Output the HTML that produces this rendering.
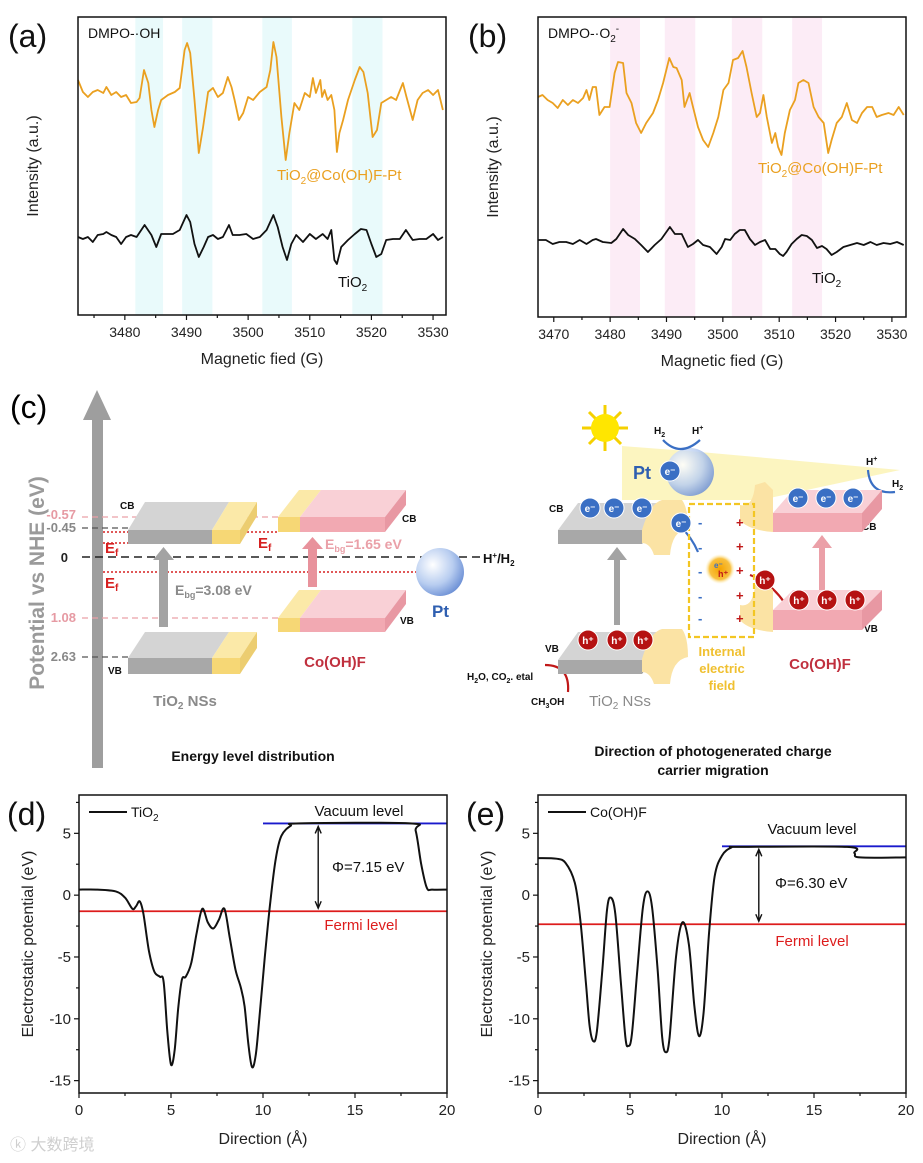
<!DOCTYPE html>
<html><head><meta charset="utf-8"><style>
html,body{margin:0;padding:0;background:#fff;}
svg{display:block;font-family:"Liberation Sans",Arial,sans-serif;}
</style></head><body>
<svg id="fig" width="923" height="1163" viewBox="0 0 923 1163" xmlns="http://www.w3.org/2000/svg">
<rect x="0" y="0" width="923" height="1163" fill="#fff"/>
<g id="pa"></g>
<g id="pb"></g>
<g id="pd"></g>
<g id="pe"></g>

<!-- Panel c -->
<g id="pc" font-weight="bold">
  <text x="10" y="418" font-size="32" font-weight="normal">(c)</text>
  <polygon points="92,768 103,768 103,420 111,420 97,390 83,420 92,420" fill="#9e9e9e"/>
  <text transform="translate(44,583) rotate(-90)" text-anchor="middle" font-size="21" fill="#9a9a9a">Potential vs NHE (eV)</text>
  <g font-size="13" text-anchor="end">
    <text x="76" y="519" fill="#e69aa3">-0.57</text>
    <text x="76" y="532" fill="#888">-0.45</text>
    <text x="68" y="562" fill="#222">0</text>
    <text x="76" y="622" fill="#e69aa3">1.08</text>
    <text x="76" y="661" fill="#888">2.63</text>
  </g>
  <g stroke-width="1.3">
    <line x1="82" y1="517" x2="278" y2="517" stroke="#eaa0a8" stroke-dasharray="6,4"/>
    <line x1="82" y1="528" x2="128" y2="528" stroke="#555" stroke-dasharray="6,4"/>
    <line x1="82" y1="557" x2="480" y2="557" stroke="#222" stroke-dasharray="8,5" stroke-width="1.6"/>
    <line x1="82" y1="618" x2="278" y2="618" stroke="#eaa0a8" stroke-dasharray="6,4"/>
    <line x1="82" y1="657" x2="128" y2="657" stroke="#555" stroke-dasharray="6,4"/>
    <line x1="103" y1="532" x2="278" y2="532" stroke="#d62020" stroke-dasharray="2,2" stroke-width="1.6"/>
    <line x1="103" y1="543" x2="128" y2="543" stroke="#d62020" stroke-dasharray="2,2" stroke-width="1.6"/>
    <line x1="103" y1="572" x2="418" y2="572" stroke="#d62020" stroke-dasharray="2,2" stroke-width="1.6"/>
  </g>
  <g id="slabs-left"></g>
  <g font-size="10" fill="#111">
    <text x="120" y="509">CB</text>
    <text x="108" y="674">VB</text>
    <text x="402" y="522">CB</text>
    <text x="400" y="624">VB</text>
  </g>
  <g fill="#d62020" font-size="15">
    <text x="105" y="553">E<tspan font-size="10" dy="3">f</tspan></text>
    <text x="105" y="588">E<tspan font-size="10" dy="3">f</tspan></text>
    <text x="258" y="548">E<tspan font-size="10" dy="3">f</tspan></text>
  </g>
  <polygon points="159,627 168,627 168,560 174,560 163.5,547 153,560 159,560" fill="#a3a3a3"/>
  <text x="175" y="595" font-size="14" fill="#8a8a8a">E<tspan font-size="9" dy="3">bg</tspan><tspan dy="-3">=3.08 eV</tspan></text>
  <polygon points="308,587 317,587 317,549 323,549 312.5,537 302,549 308,549" fill="#e8929c"/>
  <text x="325" y="549" font-size="14" fill="#eaa0a8">E<tspan font-size="9" dy="3">bg</tspan><tspan dy="-3">=1.65 eV</tspan></text>
  <defs><radialGradient id="ptg" cx="0.35" cy="0.35" r="0.7"><stop offset="0" stop-color="#fff"/><stop offset="0.6" stop-color="#b8cdf0"/><stop offset="1" stop-color="#6f92d6"/></radialGradient>
  <radialGradient id="glow" cx="0.5" cy="0.5" r="0.5"><stop offset="0" stop-color="#f5a300"/><stop offset="0.7" stop-color="#f8c040"/><stop offset="1" stop-color="#fff3c0" stop-opacity="0"/></radialGradient></defs>
  <circle cx="440" cy="572" r="24" fill="url(#ptg)"/>
  <text x="432" y="617" font-size="17" fill="#2f5fb0">Pt</text>
  <text x="483" y="563" font-size="13" fill="#111">H<tspan font-size="8" dy="-5">+</tspan><tspan dy="5">/H</tspan><tspan font-size="8" dy="3">2</tspan></text>
  <text x="185" y="706" font-size="15" text-anchor="middle" fill="#8a8a8a">TiO<tspan font-size="10" dy="3">2</tspan><tspan dy="-3"> NSs</tspan></text>
  <text x="335" y="667" font-size="15" text-anchor="middle" fill="#c0303e">Co(OH)F</text>
  <text x="253" y="761" font-size="14" text-anchor="middle" fill="#111">Energy level distribution</text>

  <!-- right half -->
  <polygon points="622,446 700,452 900,470 760,500 622,500" fill="#fbf2b0" opacity="0.8"/>
  <g>
    <g stroke="#f5d000" stroke-width="3">
      <line x1="605" y1="405" x2="605" y2="451"/><line x1="582" y1="428" x2="628" y2="428"/>
      <line x1="589" y1="412" x2="621" y2="444"/><line x1="589" y1="444" x2="621" y2="412"/>
    </g>
    <circle cx="605" cy="428" r="14" fill="#ffe600"/>
  </g>
  <circle cx="690" cy="472" r="24" fill="url(#ptg)" opacity="0.85"/>
  <text x="633" y="479" font-size="18" fill="#2f5fb0">Pt</text>
  <g font-size="10" fill="#111">
    <text x="654" y="434">H<tspan font-size="7" dy="3">2</tspan></text>
    <text x="692" y="434">H<tspan font-size="7" dy="-4">+</tspan></text>
    <text x="866" y="465">H<tspan font-size="7" dy="-4">+</tspan></text>
    <text x="892" y="487">H<tspan font-size="7" dy="3">2</tspan></text>
    <text x="549" y="512">CB</text>
    <text x="545" y="652">VB</text>
    <text x="862" y="530">CB</text>
    <text x="864" y="632">VB</text>
    <text x="467" y="680">H<tspan font-size="7" dy="3">2</tspan><tspan dy="-3">O, CO</tspan><tspan font-size="7" dy="3">2</tspan><tspan dy="-3">.  etal</tspan></text>
    <text x="531" y="705">CH<tspan font-size="7" dy="3">3</tspan><tspan dy="-3">OH</tspan></text>
  </g>
  <g fill="none" stroke="#3a6fc4" stroke-width="2.2">
    <path d="M663,440 Q680,458 700,440"/>
    <path d="M868,470 Q870,495 895,492"/>
    <path d="M655,512 Q685,522 698,552"/>
  </g>
  <g fill="none" stroke="#c01818" stroke-width="2.2">
    <path d="M568,692 Q570,665 545,665"/>
    <path d="M784,602 Q770,582 750,575"/>
  </g>
  <g id="slabs-right"></g>
  <polygon points="614,625 614,560 607,560 617,547 627,560 620,560 620,625" fill="#a3a3a3"/>
  <polygon points="819,590 819,548 812,548 822,535 832,548 825,548 825,590" fill="#eba0a8"/>
  <rect x="689" y="504" width="65" height="133" fill="none" stroke="#f3c623" stroke-width="2.2" stroke-dasharray="6,3"/>
  <g font-size="13">
    <text x="698" y="527" fill="#3a6fc4">-</text><text x="698" y="552" fill="#3a6fc4">-</text><text x="698" y="576" fill="#3a6fc4">-</text><text x="698" y="601" fill="#3a6fc4">-</text><text x="698" y="623" fill="#3a6fc4">-</text>
    <text x="736" y="527" fill="#c01818">+</text><text x="736" y="551" fill="#c01818">+</text><text x="736" y="575" fill="#c01818">+</text><text x="736" y="600" fill="#c01818">+</text><text x="736" y="623" fill="#c01818">+</text>
  </g>
  <circle cx="720" cy="569" r="15" fill="url(#glow)"/>
  <text x="714" y="568" font-size="8" fill="#3a6fc4">e⁻</text>
  <text x="718" y="577" font-size="9" fill="#c01818">h⁺</text>
  <g id="carriers"></g>
  <g font-size="13" text-anchor="middle" fill="#f0c030">
    <text x="722" y="656">Internal</text><text x="722" y="673">electric</text><text x="722" y="690">field</text>
  </g>
  <text x="820" y="669" font-size="15" text-anchor="middle" fill="#c0303e">Co(OH)F</text>
  <text x="620" y="706" font-size="15" text-anchor="middle" fill="#8a8a8a" font-weight="normal">TiO<tspan font-size="10" dy="3">2</tspan><tspan dy="-3"> NSs</tspan></text>
  <text x="713" y="756" font-size="14" text-anchor="middle" fill="#111">Direction of photogenerated charge</text>
  <text x="713" y="775" font-size="14" text-anchor="middle" fill="#111">carrier migration</text>
</g>
<text x="10" y="1150" font-size="16" fill="#cfcfcf" font-family="'Liberation Sans','Noto Sans CJK SC',sans-serif">ⓚ 大数跨境</text>
</svg>
<script>
// ---------- DATA ----------
const epr_a_hybrid = [[3472.4,15],[3473.2,3],[3474.0,-2],[3474.8,3],[3475.6,5],[3476.5,2],[3477.0,8],[3477.8,0],[3478.6,3],[3479.4,-2],[3480.2,0],[3481.0,-8],[3481.9,-7],[3482.4,-3],[3483.1,25],[3483.8,12],[3484.3,-15],[3484.8,-32],[3485.4,-15],[3485.9,-5],[3487.0,0],[3488.1,3],[3488.9,7],[3489.7,45],[3490.1,52],[3490.6,42],[3491.3,-5],[3492.0,-58],[3492.7,-32],[3493.5,3],[3494.3,7],[3495.1,-2],[3495.9,2],[3496.7,18],[3497.3,8],[3497.8,-5],[3498.5,-25],[3499.2,-18],[3500.0,-2],[3500.8,-5],[3501.9,3],[3503.0,8],[3503.6,25],[3504.1,53],[3504.6,38],[3505.4,-22],[3506.1,-65],[3506.7,-38],[3507.5,-8],[3508.3,-15],[3509.2,2],[3510.0,-2],[3510.5,17],[3511.0,2],[3511.7,15],[3512.0,-2],[3512.4,5],[3512.9,-5],[3513.5,0],[3514.0,-15],[3514.4,-57],[3514.8,-38],[3515.4,-25],[3516.2,-5],[3517.3,15],[3518.1,28],[3518.7,23],[3519.4,2],[3520.2,-42],[3520.9,-35],[3521.6,-8],[3522.4,-5],[3523.2,-2],[3524.0,-5],[3525.1,12],[3525.7,-2],[3526.7,-25],[3527.5,-5],[3528.3,2],[3529.2,5],[3530.0,0],[3530.8,5],[3531.6,-15]];
const epr_a_tio2 = [[3472.4,0],[3473.2,-2],[3474.0,0],[3474.8,-5],[3475.6,2],[3476.5,3],[3477.0,5],[3477.8,2],[3478.6,0],[3479.4,-7],[3480.2,0],[3481.0,2],[3481.9,0],[3483.2,12],[3484.3,2],[3485.1,-10],[3485.9,3],[3486.7,3],[3487.8,3],[3488.9,7],[3490.0,22],[3490.6,15],[3491.3,-7],[3492.0,-20],[3492.8,-10],[3493.5,0],[3494.3,2],[3495.1,-2],[3495.9,0],[3496.9,12],[3497.5,2],[3498.6,2],[3499.7,3],[3500.8,-2],[3501.9,0],[3503.0,7],[3504.1,22],[3504.8,10],[3505.6,-10],[3506.3,-23],[3507.0,-7],[3507.8,2],[3508.9,-5],[3510.0,3],[3511.0,-2],[3512.1,3],[3512.9,-2],[3513.5,7],[3514.0,-23],[3514.4,-27],[3515.1,-10],[3516.2,-3],[3517.3,3],[3518.3,8],[3519.2,7],[3520.0,-7],[3520.8,-20],[3521.6,-17],[3522.4,-3],[3523.5,-2],[3524.6,-2],[3525.6,7],[3526.7,-3],[3527.8,-2],[3528.9,-2],[3530.0,3],[3530.8,-3],[3531.6,0]];
const epr_b_hybrid = [[3467.2,3],[3468.0,5],[3468.9,0],[3469.8,-3],[3470.7,-8],[3471.6,0],[3472.5,-5],[3473.4,0],[3474.3,-3],[3475.2,2],[3475.8,10],[3476.3,0],[3476.9,13],[3477.5,13],[3478.1,-15],[3479.0,-7],[3479.9,-7],[3480.8,27],[3481.4,38],[3482.3,37],[3482.9,7],[3483.8,-3],[3484.6,-23],[3485.5,-33],[3486.4,-23],[3487.6,-13],[3488.5,0],[3489.4,17],[3490.5,42],[3491.2,33],[3491.8,32],[3492.7,20],[3493.2,-7],[3494.1,7],[3494.7,-7],[3495.6,-27],[3496.5,-40],[3497.4,-47],[3498.3,-33],[3499.2,-17],[3500.1,10],[3501.0,17],[3501.8,40],[3502.7,42],[3503.5,49],[3504.2,33],[3505.1,7],[3506.0,-17],[3506.6,-13],[3507.2,5],[3507.8,-17],[3508.7,-43],[3509.3,-33],[3509.8,-47],[3510.4,-55],[3511.0,-33],[3511.9,-10],[3512.8,0],[3513.4,17],[3514.3,20],[3515.2,17],[3516.1,-7],[3517.0,-17],[3517.9,-23],[3518.7,-53],[3519.3,-40],[3520.2,-23],[3521.1,-17],[3522.0,-3],[3522.9,-20],[3523.8,-23],[3524.7,-13],[3525.6,-7],[3526.5,-7],[3527.3,-17],[3528.2,-15],[3529.4,-13],[3530.3,-15],[3531.2,-7],[3532.1,-15]];
const epr_b_tio2 = [[3467.2,2],[3468.6,2],[3469.8,-2],[3471.0,0],[3472.2,0],[3473.4,-2],[3474.6,2],[3475.8,-2],[3476.9,2],[3477.5,3],[3478.7,0],[3480.2,-1],[3481.1,3],[3482.3,13],[3483.2,7],[3484.4,3],[3485.5,-3],[3486.7,-10],[3487.9,-3],[3489.1,3],[3490.6,15],[3491.5,8],[3492.7,8],[3493.8,-5],[3494.7,-2],[3495.6,2],[3496.5,-3],[3497.7,-5],[3498.9,-12],[3499.8,-5],[3500.4,3],[3501.3,2],[3502.1,8],[3503.0,12],[3503.9,12],[3504.8,3],[3505.7,-3],[3506.6,0],[3507.5,2],[3508.4,-7],[3509.3,-7],[3510.1,-12],[3510.7,-14],[3511.3,-10],[3512.2,-2],[3513.1,3],[3514.0,7],[3514.9,6],[3515.8,2],[3516.7,-6],[3517.6,-4],[3518.4,-7],[3519.3,-13],[3520.2,-10],[3521.4,-5],[3522.6,-3],[3523.8,-1],[3525.0,-3],[3526.2,0],[3527.3,-3],[3528.5,-1],[3529.7,-2],[3530.9,0],[3532.1,-3]];
const eprTicksA = [3480,3490,3500,3510,3520,3530];
const eprTicksB = [3470,3480,3490,3500,3510,3520,3530];
const bandsA = [[3481.7,3486.2],[3489.3,3494.2],[3502.3,3507.1],[3516.9,3521.8]];
const bandsB = [[3480.0,3485.3],[3489.7,3495.1],[3501.6,3507.0],[3512.3,3517.6]];
const pot_tio2_x = [0,1,2,2.5,2.9,3.1,3.3,3.5,3.8,4.1,4.4,4.6,4.8,5.0,5.2,5.4,5.6,5.8,6.1,6.4,6.7,7.0,7.3,7.6,7.9,8.2,8.5,8.8,9.0,9.2,9.4,9.6,9.8,10.1,10.4,10.7,11.0,11.5,12,18,18.3,18.6,18.9,19.2,20];
const pot_tio2_y = [0.45,0.45,0.3,-0.2,-1.1,-0.9,-0.5,-1.5,-4.5,-6.2,-6.6,-7,-11,-13.7,-12.5,-9,-6.8,-6.6,-5.5,-3,-1.1,-2.2,-2.7,-2,-1.1,-3.5,-6,-7.5,-9,-12,-13.9,-13,-10,-5,-0.5,3,4.8,5.6,5.8,5.8,5.2,2.5,0.6,0.45,0.45];
const pot_cohf_x = [0,1,1.5,2.0,2.3,2.6,2.8,3.0,3.2,3.5,3.75,3.95,4.2,4.5,4.75,4.9,5.1,5.4,5.7,5.95,6.2,6.5,6.75,6.95,7.15,7.5,7.85,8.2,8.5,8.75,9.0,9.3,9.6,10,10.5,11,16.8,17.2,17.5,20];
const pot_cohf_y = [3.0,2.95,2.6,1,-2,-7,-10.5,-11.8,-11,-6,-1.2,-0.2,-1.5,-7,-11.5,-12.2,-11.3,-6,-1,0.3,-1,-6,-11.5,-12.7,-11.5,-5,-2.2,-4,-9,-11.4,-9.5,-3,1.5,3.2,3.85,3.9,3.9,3.4,3.05,3.05];
const potTicksX = [0,5,10,15,20];
const potTicksY = [5,0,-5,-10,-15];
const levels_d = {vac:5.8, fermi:-1.3, phi:"Φ=7.15 eV", arrowX:13};
const levels_e = {vac:3.95, fermi:-2.35, phi:"Φ=6.30 eV", arrowX:12};

// ---------- HELPERS ----------
const NS="http://www.w3.org/2000/svg";
function mk(parent, tag, attrs, text){const e=document.createElementNS(NS,tag);for(const k in attrs)e.setAttribute(k,attrs[k]);if(text!==undefined)e.textContent=text;parent.appendChild(e);return e;}
function lin(d0,d1,r0,r1){return v=>r0+(v-d0)*(r1-r0)/(d1-d0);}
function smoothPath(pts){let d="M"+pts[0][0].toFixed(1)+","+pts[0][1].toFixed(1);for(let i=0;i<pts.length-1;i++){const p0=pts[i-1]||pts[i],p1=pts[i],p2=pts[i+1],p3=pts[i+2]||p2;const c1=[p1[0]+(p2[0]-p0[0])/6,p1[1]+(p2[1]-p0[1])/6],c2=[p2[0]-(p3[0]-p1[0])/6,p2[1]-(p3[1]-p1[1])/6];d+=`C${c1[0].toFixed(1)},${c1[1].toFixed(1)} ${c2[0].toFixed(1)},${c2[1].toFixed(1)} ${p2[0].toFixed(1)},${p2[1].toFixed(1)}`;}return d;}

function eprPanel(g, cfg){
  const X=lin(cfg.xmin,cfg.xmax,cfg.L,cfg.R);
  cfg.bands.forEach(b=>{const r=mk(g,"rect",{x:X(b[0]),y:cfg.T,width:X(b[1])-X(b[0]),height:cfg.B-cfg.T,fill:cfg.bandColor});
    
    });
  const series=[[cfg.hyb,cfg.base1,"#eaa020","hybrid-spectrum"],[cfg.ti,cfg.base2,"#111","tio2-spectrum"]];
  series.forEach(s=>{const d=s[0].map((p,i)=>(i?"L":"M")+X(p[0]).toFixed(1)+","+(s[1]-p[1]).toFixed(1)).join("");
    const p=mk(g,"path",{d:d,fill:"none",stroke:s[2],"stroke-width":1.8,"stroke-linejoin":"round"});
    
    });
  const fr=mk(g,"rect",{x:cfg.L,y:cfg.T,width:cfg.R-cfg.L,height:cfg.B-cfg.T,fill:"none",stroke:"#111","stroke-width":1.5});
  
  
  for(let v=Math.ceil(cfg.xmin/5)*5; v<=cfg.xmax; v+=5){const major=v%10===0;mk(g,"line",{x1:X(v),x2:X(v),y1:cfg.B,y2:cfg.B+(major?5:3),stroke:"#111","stroke-width":1.2});}
  cfg.ticks.forEach(v=>{const t=mk(g,"text",{x:X(v),y:cfg.B+22,"text-anchor":"middle","font-size":14,fill:"#222"},String(v));
    
    });
  const xt=mk(g,"text",{x:(cfg.L+cfg.R)/2,y:cfg.B+49,"text-anchor":"middle","font-size":16,fill:"#222"},"Magnetic fied (G)");
  
  
  const yt=mk(g,"text",{transform:`translate(${cfg.L-40},${(cfg.T+cfg.B)/2}) rotate(-90)`,"text-anchor":"middle","font-size":16,fill:"#222"},"Intensity (a.u.)");
  
  
  const pl=mk(g,"text",{x:cfg.L-70,y:cfg.T+30,"font-size":32,fill:"#111"},cfg.letter);
  
  
  const ti=mk(g,"text",{x:cfg.L+10,y:cfg.T+21,"font-size":14,fill:"#111"});
  ti.innerHTML=cfg.title;
  
  
  const l1=mk(g,"text",{x:cfg.lab1[0],y:cfg.lab1[1],"font-size":15,fill:"#eaa020"});
  l1.innerHTML='TiO<tspan font-size="10" dy="4">2</tspan><tspan dy="-4">@Co(OH)F-Pt</tspan>';
  
  
  const l2=mk(g,"text",{x:cfg.lab2[0],y:cfg.lab2[1],"font-size":15,fill:"#111"});
  l2.innerHTML='TiO<tspan font-size="10" dy="4">2</tspan>';
  
  
}
eprPanel(document.getElementById("pa"),{L:78,R:446,T:17,B:315,xmin:3472.4,xmax:3532.1,bands:bandsA,bandColor:"#e9fafb",hyb:epr_a_hybrid,ti:epr_a_tio2,base1:95,base2:237,ticks:eprTicksA,letter:"(a)",title:"DMPO-·OH",lab1:[277,180],lab2:[338,287]});
eprPanel(document.getElementById("pb"),{L:538,R:906,T:17,B:317,xmin:3467.2,xmax:3532.5,bands:bandsB,bandColor:"#fcecf6",hyb:epr_b_hybrid,ti:epr_b_tio2,base1:100,base2:242,ticks:eprTicksB,letter:"(b)",title:'DMPO-·O<tspan font-size="10" dy="4">2</tspan><tspan font-size="10" dy="-10">-</tspan>',lab1:[758,173],lab2:[812,283]});

function potPanel(g,cfg){
  const X=lin(0,20,cfg.L,cfg.R), Y=lin(-16,8.1,cfg.B,cfg.T);
  const pts=cfg.xs.map((x,i)=>[X(x),Y(cfg.ys[i])]);
  const v=mk(g,"line",{x1:X(10),x2:X(20),y1:Y(cfg.lv.vac),y2:Y(cfg.lv.vac),stroke:"#1a1acc","stroke-width":1.8});
  
  
  const f=mk(g,"line",{x1:X(0),x2:X(20),y1:Y(cfg.lv.fermi),y2:Y(cfg.lv.fermi),stroke:"#dd1c1c","stroke-width":1.8});
  
  
  const c=mk(g,"path",{d:smoothPath(pts),fill:"none",stroke:"#111","stroke-width":2});
  
  
  const ax=X(cfg.lv.arrowX),y1=Y(cfg.lv.vac)+3,y2=Y(cfg.lv.fermi)-3;
  const ar=mk(g,"path",{d:`M${ax},${y1}L${ax},${y2}M${ax-3},${y1+7}L${ax},${y1}L${ax+3},${y1+7}M${ax-3},${y2-7}L${ax},${y2}L${ax+3},${y2-7}`,stroke:"#111","stroke-width":1.4,fill:"none"});
  
  
  const fr=mk(g,"rect",{x:cfg.L,y:cfg.T,width:cfg.R-cfg.L,height:cfg.B-cfg.T,fill:"none",stroke:"#111","stroke-width":1.5});
  
  
  for(let t=0;t<=20;t+=2.5){mk(g,"line",{x1:X(t),x2:X(t),y1:cfg.B,y2:cfg.B+(t%5===0?5:3),stroke:"#111","stroke-width":1.2});}
  for(let t=-15;t<=7.5;t+=2.5){mk(g,"line",{x1:cfg.L,x2:cfg.L-(t%5===0?5:3),y1:Y(t),y2:Y(t),stroke:"#111","stroke-width":1.2});}
  potTicksX.forEach(t=>{const e=mk(g,"text",{x:X(t),y:cfg.B+22,"text-anchor":"middle","font-size":15,fill:"#222"},String(t));
    
    });
  potTicksY.forEach(t=>{const e=mk(g,"text",{x:cfg.L-8,y:Y(t)+5,"text-anchor":"end","font-size":15,fill:"#222"},String(t));
    
    });
  const xt=mk(g,"text",{x:(cfg.L+cfg.R)/2,y:cfg.B+51,"text-anchor":"middle","font-size":16,fill:"#222"},"Direction (Å)");
  
  
  const yt=mk(g,"text",{transform:`translate(${cfg.L-46},${(cfg.T+cfg.B)/2}) rotate(-90)`,"text-anchor":"middle","font-size":16,fill:"#222"},"Electrostatic potential (eV)");
  
  
  const pl=mk(g,"text",{x:cfg.L-72,y:cfg.T+30,"font-size":32,fill:"#111"},cfg.letter);
  
  
  const ll=mk(g,"line",{x1:cfg.L+10,x2:cfg.L+48,y1:cfg.T+17,y2:cfg.T+17,stroke:"#111","stroke-width":2});
  
  
  const lt=mk(g,"text",{x:cfg.L+52,y:cfg.T+22,"font-size":14,fill:"#111"});
  lt.innerHTML=cfg.legend;
  
  
  const vt=mk(g,"text",{x:cfg.vacText[0],y:cfg.vacText[1],"text-anchor":"middle","font-size":15,fill:"#111"},"Vacuum level");
  
  
  const ft=mk(g,"text",{x:cfg.fermiText[0],y:cfg.fermiText[1],"text-anchor":"middle","font-size":15,fill:"#dd1c1c"},"Fermi level");
  
  
  const pt=mk(g,"text",{x:cfg.phiText[0],y:cfg.phiText[1],"font-size":15,fill:"#111"},cfg.lv.phi);
  
  
}
potPanel(document.getElementById("pd"),{L:79,R:447,T:795,B:1093,xs:pot_tio2_x,ys:pot_tio2_y,lv:levels_d,letter:"(d)",legend:'TiO<tspan font-size="10" dy="4">2</tspan>',vacText:[359,816],fermiText:[361,930],phiText:[332,872]});
potPanel(document.getElementById("pe"),{L:538,R:906,T:795,B:1093,xs:pot_cohf_x,ys:pot_cohf_y,lv:levels_e,letter:"(e)",legend:'Co(OH)F',vacText:[812,834],fermiText:[812,946],phiText:[775,888]});

// ---------- Slabs ----------
function slab(g,x,y,h,dx,dy,segs,side,name){
  const s=mk(g,"g",{});
  
  
  let cx=x;
  segs.forEach(sg=>{mk(s,"polygon",{points:`${cx},${y} ${cx+dx},${y+dy} ${cx+sg[0]+dx},${y+dy} ${cx+sg[0]},${y}`,fill:sg[2]});
    mk(s,"rect",{x:cx,y:y,width:sg[0],height:h,fill:sg[1]});cx+=sg[0];});
  mk(s,"polygon",{points:`${cx},${y} ${cx+dx},${y+dy} ${cx+dx},${y+dy+h} ${cx},${y+h}`,fill:side});
}
const GL=document.getElementById("slabs-left");
const gray=["#a8a8a8","#d4d4d4"], yel=["#f6d775","#fbe9a8"], pink=["#f2a9b2","#f9d0d6"];
slab(GL,128,530,14,17,-28,[[84,gray[0],gray[1]],[28,yel[0],yel[1]]],"#eccd70","tio2-cb-slab");
slab(GL,128,658,16,17,-26,[[84,gray[0],gray[1]],[28,yel[0],yel[1]]],"#eccd70","tio2-vb-slab");
slab(GL,278,517,15,21,-27,[[22,yel[0],yel[1]],[85,pink[0],pink[1]]],"#e898a3","cohf-cb-slab");
slab(GL,278,618,14,21,-28,[[22,yel[0],yel[1]],[85,pink[0],pink[1]]],"#e898a3","cohf-vb-slab");
const GR=document.getElementById("slabs-right");
slab(GR,558,530,14,20,-27,[[84,gray[0],gray[1]]],"#999","tio2-cb-slab-right");
slab(GR,558,660,14,20,-28,[[84,gray[0],gray[1]]],"#999","tio2-vb-slab-right");
slab(GR,773,513,19,20,-23,[[89,pink[0],pink[1]]],"#e898a3","cohf-cb-slab-right");
slab(GR,773,610,20,20,-20,[[89,pink[0],pink[1]]],"#e898a3","cohf-vb-slab-right");
[[642,503,"tio2-cb-interface"],[642,632,"tio2-vb-interface"]].forEach(c=>{
  const p=mk(GR,"path",{d:`M${c[0]},${c[1]+40} L${c[0]},${c[1]+27} Q${c[0]+8},${c[1]} ${c[0]+20},${c[1]-3} L${c[0]+40},${c[1]-3} Q${c[0]+46},${c[1]+5} ${c[0]+46},${c[1]+25} Q${c[0]+30},${c[1]+28} ${c[0]+28},${c[1]+52} L${c[0]+12},${c[1]+52} Q${c[0]+8},${c[1]+40} ${c[0]},${c[1]+40}Z`,fill:"#fbe3a4"});
  
  });
[[773,490,"cohf-cb-interface"],[773,590,"cohf-vb-interface"]].forEach(c=>{
  const p=mk(GR,"path",{d:`M${c[0]},${c[1]} L${c[0]},${c[1]+42} Q${c[0]-25},${c[1]+40} ${c[0]-33},${c[1]+30} L${c[0]-33},${c[1]+15} Q${c[0]-20},${c[1]+18} ${c[0]-18},${c[1]-5} L${c[0]-8},${c[1]-8}Z`,fill:"#fbe3a4"});
  
  });
const CR=document.getElementById("carriers");
function carrier(x,y,type){const g=mk(CR,"g",{});
  
  
  mk(g,"circle",{cx:x,cy:y,r:10,fill:type==="e"?"#3a6fc4":"#b51212",stroke:"#fff","stroke-width":1});
  mk(g,"text",{x:x,y:y+4,"text-anchor":"middle","font-size":10,fill:"#fff"},type==="e"?"e⁻":"h⁺");}
[[590,508],[614,508],[642,508],[681,523],[670,471],[798,498],[826,498],[853,498]].forEach(p=>carrier(p[0],p[1],"e"));
[[588,640],[617,640],[643,640],[765,580],[799,600],[827,600],[855,600]].forEach(p=>carrier(p[0],p[1],"h"));
</script>
</body></html>
